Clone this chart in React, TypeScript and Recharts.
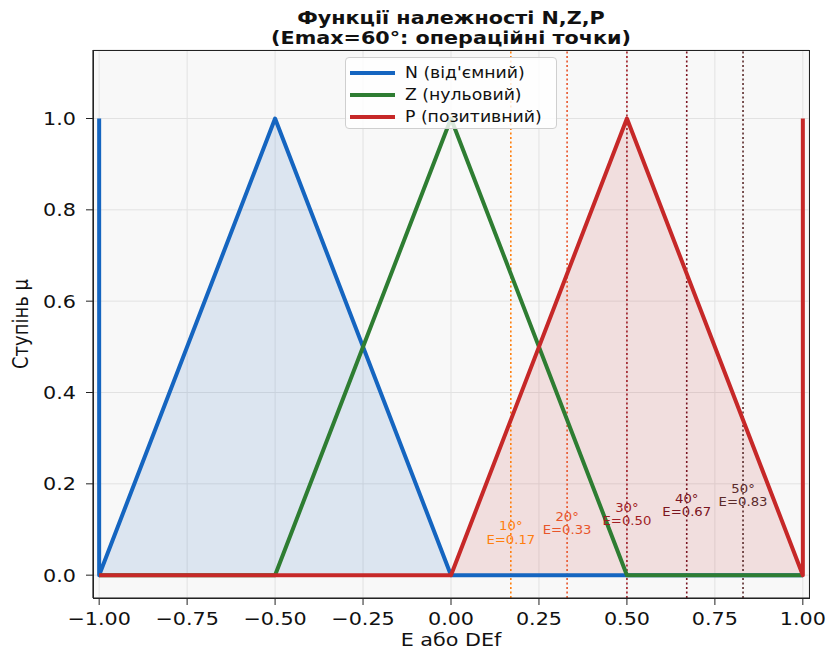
import {
  Area,
  CartesianGrid,
  ComposedChart,
  Label,
  Line,
  ReferenceLine,
  Scatter,
  XAxis,
  YAxis,
} from 'recharts';

// Membership functions: breakpoints (x) and degree (mu)
const nX = [-1, -1, -0.5, 0, 1];
const nMu = [1, 0, 1, 0, 0];
const zX = [-1, -0.5, 0, 0.5, 1];
const zMu = [0, 0, 1, 0, 0];
const pX = [-1, 0, 0.5, 1, 1];
const pMu = [0, 0, 1, 0, 1];

// Operating points
const angles = [10, 20, 30, 40, 50];
const eValues = [0.17, 0.33, 0.5, 0.67, 0.83];
const labelMu = [0.093, 0.113, 0.133, 0.154, 0.175];
const pointColors = ['#ff7f0e', '#e8552a', '#a01c24', '#7a1420', '#5a2a2a'];

const xTicks = [-1, -0.75, -0.5, -0.25, 0, 0.25, 0.5, 0.75, 1];
const yTicks = [0, 0.2, 0.4, 0.6, 0.8, 1];

const series = [
  { name: "N (від'ємний)", color: '#1565c0', fill: '#1565c0', xs: nX, mus: nMu },
  { name: 'Z (нульовий)', color: '#2e7d32', fill: null, xs: zX, mus: zMu },
  { name: 'P (позитивний)', color: '#c62828', fill: '#c62828', xs: pX, mus: pMu },
];

const toRows = (xs: number[], mus: number[]) => xs.map((x, i) => ({ x, mu: mus[i] }));

const annRows = angles.map((a, i) => ({
  x: eValues[i],
  labelY: labelMu[i],
  angle: a,
  color: pointColors[i],
}));

const FONT = 'DejaVu Sans, sans-serif';
// the reference text is a bit wider than plain DejaVu
const SX = 1.15;

const AnnotationText = (props: any) => {
  const { cx, cy, payload } = props;
  return (
    <text
      transform={`translate(${cx},${cy}) scale(${SX},1)`}
      textAnchor='middle'
      fill={payload.color}
      fontSize={11.5}
      fontFamily={FONT}
    >
      <tspan x={0} dy='-0.2em'>{`${payload.angle}°`}</tspan>
      <tspan x={0} dy='1.15em'>{`E=${payload.x.toFixed(2)}`}</tspan>
    </text>
  );
};

const fmtX = (v: number) => (v < 0 ? '\u2212' + Math.abs(v).toFixed(2) : v.toFixed(2));
const fmtY = (v: number) => v.toFixed(1);

const XTick = (props: any) => {
  const { x, y, payload } = props;
  return (
    <text
      transform={`translate(${x},${y}) scale(${SX},1)`}
      textAnchor='middle'
      dy='0.71em'
      fontSize={18}
      fontFamily={FONT}
      fill='#111'
    >
      {fmtX(payload.value)}
    </text>
  );
};

const YTick = (props: any) => {
  const { x, y, payload } = props;
  return (
    <text
      transform={`translate(${x},${y}) scale(${SX},1)`}
      textAnchor='end'
      dy='0.36em'
      fontSize={18}
      fontFamily={FONT}
      fill='#111'
    >
      {fmtY(payload.value)}
    </text>
  );
};

export default function App() {
  return (
    <div
      style={{
        position: 'absolute',
        left: 0,
        top: 0,
        width: 827,
        height: 650,
        background: '#fff',
        fontFamily: FONT,
      }}
    >
      <div
        style={{
          position: 'absolute',
          left: 93,
          width: 716,
          top: 8,
          textAlign: 'center',
          fontWeight: 'bold',
          fontSize: 18,
          lineHeight: '20px',
          color: '#111',
          transform: `scaleX(${SX})`,
          transformOrigin: '358px 0',
        }}
      >
        Функції належності N,Z,P
        <br />
        (Emax=60°: операційні точки)
      </div>

      <ComposedChart
        width={827}
        height={650}
        margin={{ top: 50, right: 18, left: 43, bottom: 22 }}
      >
        <CartesianGrid stroke='#e2e2e2' strokeWidth={1} fill='#f8f8f8' />

        <XAxis
          dataKey='x'
          type='number'
          domain={[-1.0175, 1.0175]}
          ticks={xTicks}
          tick={<XTick />}
          tickSize={7}
          tickMargin={7}
          height={30}
          axisLine={{ stroke: '#222', strokeWidth: 1.2 }}
          tickLine={{ stroke: '#222' }}
          allowDataOverflow
        >
          <Label
            content={(p: any) => {
              const vb = p.viewBox;
              return (
                <text
                  transform={`translate(${vb.x + vb.width / 2},${646}) scale(${SX},1)`}
                  textAnchor='middle'
                  fontSize={18}
                  fontFamily={FONT}
                  fill='#111'
                >
                  E або DEf
                </text>
              );
            }}
          />
        </XAxis>
        <YAxis
          type='number'
          domain={[-0.05, 1.15]}
          ticks={yTicks}
          tick={<YTick />}
          tickSize={7}
          tickMargin={10}
          width={50}
          axisLine={{ stroke: '#222', strokeWidth: 1.2 }}
          tickLine={{ stroke: '#222' }}
          allowDataOverflow
        >
          <Label
            content={(p: any) => {
              const vb = p.viewBox;
              return (
                <text
                  transform={`translate(21,${vb.y + vb.height / 2}) scale(${SX},1) rotate(-90)`}
                  textAnchor='middle'
                  dy='0.36em'
                  fontSize={18}
                  fontFamily={FONT}
                  fill='#111'
                >
                  Ступінь μ
                </text>
              );
            }}
          />
        </YAxis>

        {/* shaded N and P regions */}
        {series
          .filter((s) => s.fill)
          .map((s) => (
            <Area
              key={`fill-${s.name}`}
              data={toRows(s.xs, s.mus)}
              dataKey='mu'
              type='linear'
              baseValue={0}
              stroke='none'
              fill={s.fill as string}
              fillOpacity={0.12}
              isAnimationActive={false}
              legendType='none'
            />
          ))}

        {/* operating point markers */}
        {annRows.map((r) => (
          <ReferenceLine
            key={`ref-${r.angle}`}
            x={r.x}
            stroke={r.color}
            strokeWidth={1.6}
            strokeDasharray='2 2.5'
          />
        ))}

        {series.map((s) => (
          <Line
            key={s.name}
            data={toRows(s.xs, s.mus)}
            dataKey='mu'
            name={s.name}
            type='linear'
            stroke={s.color}
            strokeWidth={4}
            strokeLinejoin='round'
            dot={false}
            activeDot={false}
            isAnimationActive={false}
          />
        ))}

        <Scatter
          data={annRows}
          dataKey='labelY'
          shape={AnnotationText}
          isAnimationActive={false}
        />
      </ComposedChart>

      {/* axes frame */}
      <div
        style={{
          position: 'absolute',
          left: 92.5,
          top: 49.5,
          width: 717,
          height: 549,
          boxSizing: 'border-box',
          border: '1.2px solid #222',
          pointerEvents: 'none',
        }}
      />

      {/* legend */}
      <div
        style={{
          position: 'absolute',
          left: 345,
          top: 57,
          width: 210,
          height: 70,
          background: 'rgba(255,255,255,0.82)',
          border: '1px solid #cfcfcf',
          borderRadius: 4,
        }}
      >
        {series.map((s, i) => (
          <div
            key={s.name}
            style={{
              position: 'absolute',
              left: 4,
              top: 5 + i * 22,
              height: 20,
              display: 'flex',
              alignItems: 'center',
              whiteSpace: 'nowrap',
            }}
          >
            <div style={{ width: 45, height: 4, background: s.color, marginRight: 10 }} />
            <span
              style={{
                display: 'inline-block',
                fontSize: 15,
                color: '#111',
                transform: `scaleX(${SX})`,
                transformOrigin: '0 50%',
              }}
            >
              {s.name}
            </span>
          </div>
        ))}
      </div>
    </div>
  );
}
